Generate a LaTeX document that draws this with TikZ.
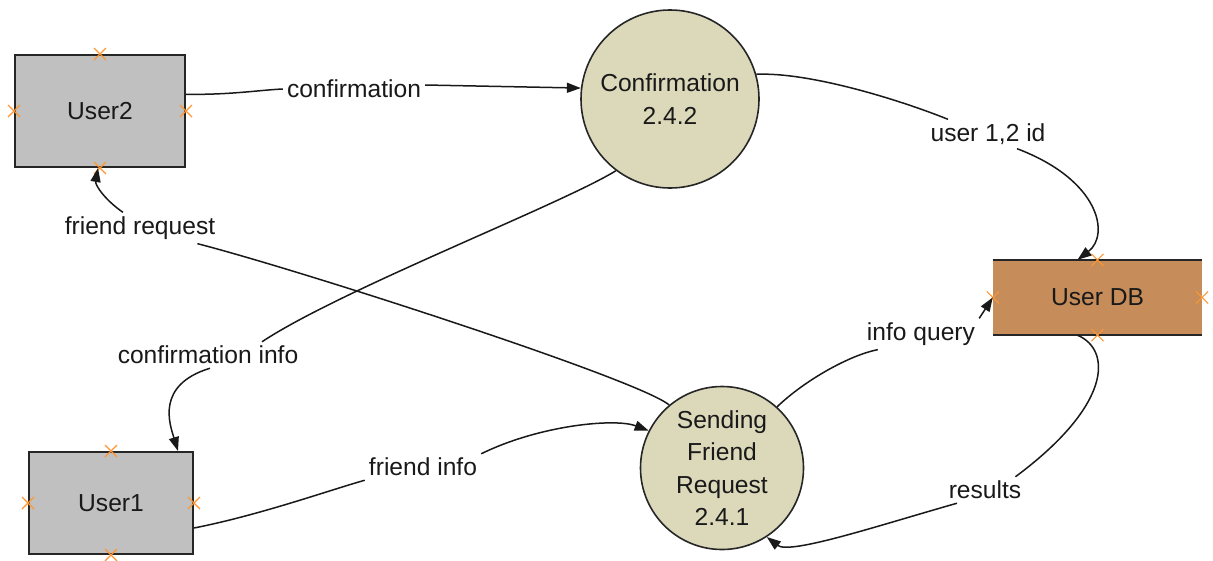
\documentclass[tikz,border=0pt]{standalone}
\usepackage{fontspec}
\setmainfont{Liberation Sans}
\usetikzlibrary{arrows.meta}
\definecolor{extgray}{RGB}{192,192,192}
\definecolor{procbeige}{RGB}{220,217,187}
\definecolor{storebrown}{RGB}{198,140,90}
\definecolor{anchororange}{RGB}{255,150,50}
\tikzset{
  every node/.style={font=\fontsize{24.6}{32.5}\selectfont, text=black!90},
  entity/.style={rectangle, draw=black!85, line width=2pt, fill=extgray},
  process/.style={circle, draw=black!85, line width=1.6pt, fill=procbeige, align=center, inner sep=0pt},
  store/.style={rectangle, fill=storebrown, minimum width=209pt, minimum height=75pt},
  storeedge/.style={draw=black!85, line width=2pt},
  flowlabel/.style={inner sep=4pt},
  flow/.style={draw=black!90, line width=1.5pt},
  flowarrow/.style={flow, -{Triangle[length=14pt,width=10pt]}},
  xmark/.pic={\draw[anchororange, line width=1.1pt] (-6,-6)--(6,6) (-6,6)--(6,-6);}
}
\begin{document}
\begin{tikzpicture}[x=1pt,y=-1pt]
\useasboundingbox (0,0) rectangle (1213,560);

% external entities, data store and processes
\node[entity, minimum width=170pt, minimum height=112pt] (u2) at (100,111) {User2};
\node[entity, minimum width=164pt, minimum height=102pt] (u1) at (111,503) {User1};
\node[store] (db) at (1097.5,297.5) {User DB};
\draw[storeedge] (db.north west) -- (db.north east) (db.south west) -- (db.south east);
\node[process, minimum size=178pt] (conf) at (670,99) {Confirmation\\2.4.2};
\node[process, minimum size=163pt] (send) at (722,468) {Sending\\Friend\\Request\\2.4.1};

% connection points
\foreach \n in {u1,u2,db}{
  \foreach \a in {north,south,east,west}{
    \pic at (\n.\a) {xmark};
  }
}

% flow labels
\node[flowlabel] (lc)  at (354,89)  {confirmation};
\node[flowlabel] (lu)  at (988,134) {user 1,2 id};
\node[flowlabel] (lfr) at (140,228) {friend request};
\node[flowlabel] (lci) at (208,355) {confirmation info};
\node[flowlabel] (lfi) at (423,467) {friend info};
\node[flowlabel] (liq) at (921,334) {info query};
\node[flowlabel] (lr)  at (985,490) {results};

% data flows
\draw[flow] (u2.11) .. controls (230,95) and (260,90) .. (lc.west);
\draw[flowarrow] ([yshift=4pt]lc.east) -- (conf.173);

\draw[flow] (conf.16) .. controls (810,72) and (900,100) .. ([xshift=-40pt]lu.north);
\draw[flowarrow] ([xshift=29pt]lu.south) .. controls (1100,180) and (1110,235) .. ([xshift=-20pt]db.north);

\draw[flow] (send.130) .. controls (640,380) and (300,270) .. ([xshift=-22pt]lfr.south east);
\draw[flowarrow] ([xshift=-17pt]lfr.north) .. controls (105,200) and (95,185) .. ([xshift=-2pt]u2.south);

\draw[flow] (conf.233) .. controls (560,205) and (340,290) .. ([xshift=54pt]lci.north);
\draw[flowarrow] ([xshift=2pt]lci.south) .. controls (155,385) and (170,425) .. ([xshift=67pt]u1.north);

\draw[flow] ([yshift=-25pt]u1.east) .. controls (260,515) and (330,490) .. (lfi.south west);
\draw[flowarrow] (lfi.north east) .. controls (540,425) and (615,418) .. (send.153);

\draw[flow] (send.48) .. controls (805,380) and (850,355) .. ([xshift=15pt]liq.south west);
\draw[flowarrow] (liq.north east) -- (db.west);

\draw[flow] ([xshift=-20pt]db.south) .. controls (1112,350) and (1112,405) .. ([xshift=-10pt]lr.north east);
\draw[flowarrow] ([xshift=-28pt]lr.south) .. controls (880,525) and (790,555) .. (send.-57);
\end{tikzpicture}
\end{document}
